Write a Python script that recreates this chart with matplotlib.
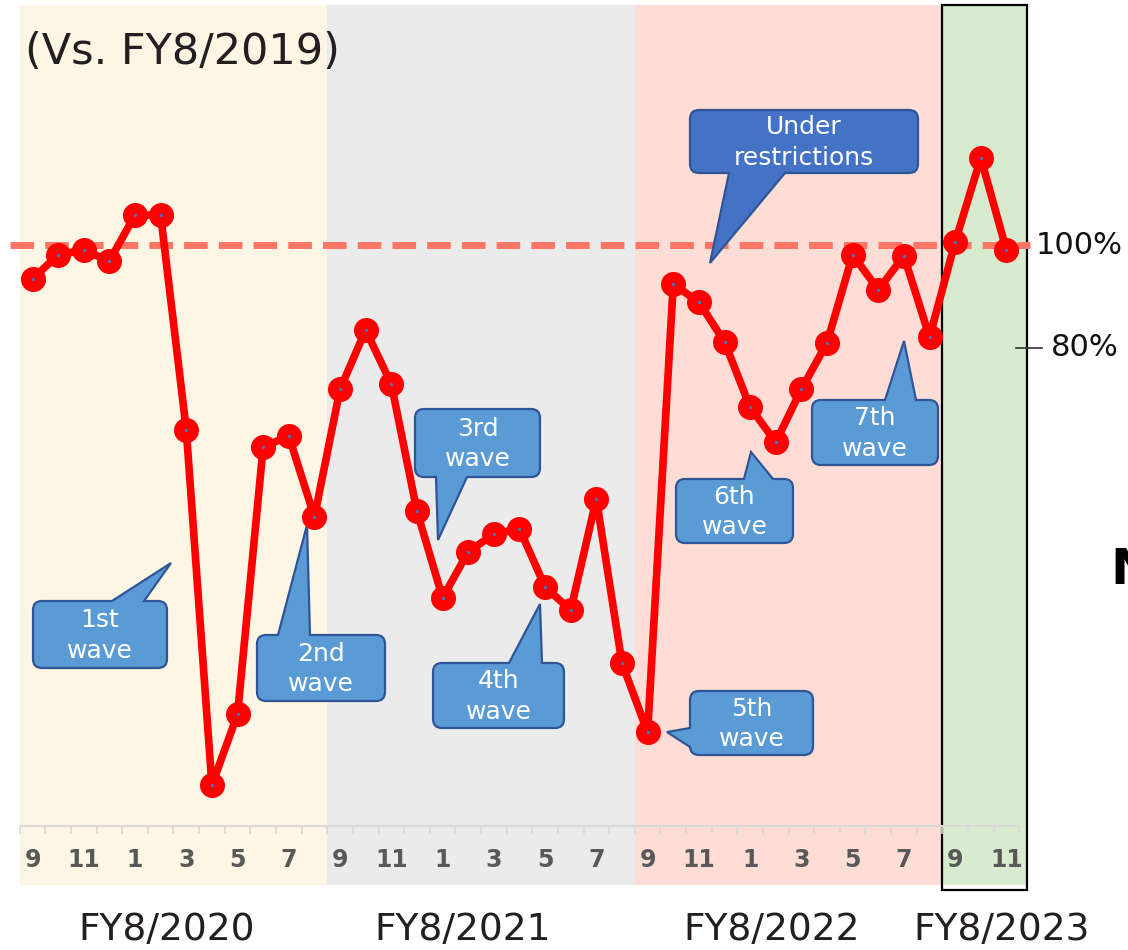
import numpy as np
import matplotlib
matplotlib.use("Agg")
import matplotlib.pyplot as plt
from matplotlib.path import Path
from matplotlib.patches import PathPatch
from matplotlib.transforms import Affine2D

# monthly index vs. FY8/2019 (%), Sep 2019 .. Nov 2022
months = [9, 10, 11, 12, 1, 2, 3, 4, 5, 6, 7, 8] * 3 + [9, 10, 11]
values = [93.4, 98.1, 99.0, 96.9, 105.8, 105.8, 64.1, -4.9, 8.9, 60.8, 62.9, 47.2,
          72.0, 83.5, 73.0, 48.3, 31.5, 40.4, 43.9, 44.9, 33.6, 29.1, 50.7, 18.8,
          5.4, 92.4, 88.9, 81.2, 68.5, 61.7, 72.0, 81.0, 98.1, 91.3, 97.9, 82.1,
          100.6, 116.9, 99.0]
fiscal_years = ["FY8/2020", "FY8/2021", "FY8/2022", "FY8/2023"]
band_edges = [-0.5, 11.5, 23.5, 35.5, 38.8]
band_colors = ["#FEF6E4", "#EBEBEB", "#FDDDD5", "#D9EBCF"]

W, H = 1128, 950
X0, DX = 32.5, 25.63      # pixel of first month, pixels per month
Y100, DY = 245, 5.15      # pixel of 100%, pixels per percent

fig = plt.figure(figsize=(W / 100, H / 100), dpi=100)
ax = fig.add_axes([0, 0, 1, 1])
ax.set_xlim(-X0 / DX, (W - X0) / DX)
ax.set_ylim(100 - (H - Y100) / DY, 100 + Y100 / DY)
ax.axis("off")

# pixel coordinates (y measured from the top) for labels and callouts
pix = Affine2D().scale(1 / W, -1 / H).translate(0, 1) + fig.transFigure

x = np.arange(len(values))

# fiscal year bands
for i in range(4):
    ax.axvspan(band_edges[i], band_edges[i + 1], ymin=65 / H, ymax=945 / H,
               color=band_colors[i], lw=0, zorder=0)
ax.axvspan(band_edges[3], band_edges[4], ymin=60 / H, ymax=945 / H,
           fc="none", ec="black", lw=1.6, zorder=1)

# baseline axis with monthly ticks
y_axis = 100 - (826 - Y100) / DY
y_tick = 100 - (834 - Y100) / DY
ax.hlines(y_axis, -0.5, len(values) - 0.5, color="#D9D9D9", lw=1.5, zorder=1)
ax.vlines(np.arange(len(values) + 1) - 0.5, y_tick, y_axis, color="#D9D9D9", lw=1.2, zorder=1)
y_lab = 100 - (860 - Y100) / DY
for k in range(0, len(values), 2):
    ax.text(k, y_lab, str(months[k]), ha="center", va="center", fontsize=17,
            fontweight="bold", color="#595959", zorder=3)

# 100% reference line
ax.plot([(10 - X0) / DX, (1030 - X0) / DX], [100, 100], color="#FF7566", lw=5,
        dashes=(3.4, 1.6), solid_capstyle="butt", zorder=2)

# main series
ax.plot(x, values, color="#FF0000", lw=5.5, marker="o", ms=17, zorder=5)
ax.plot(x, values, ls="none", marker="o", ms=1.3, color="#4472C4", zorder=6)

# right-hand labels
ax.text((1036 - X0) / DX, 100, "100%", ha="left", va="center", fontsize=22, color="#111111")
ax.text((1051 - X0) / DX, 80, "80%", ha="left", va="center", fontsize=22, color="#111111")
ax.plot([(1016 - X0) / DX, (1042 - X0) / DX], [80, 80], color="#333333", lw=1.2)

ax.text(25, 52, "(Vs. FY8/2019)", transform=pix, ha="left", va="center",
        fontsize=31, color="#231F20")
fy_x = [167, 463, 772, 1002]
for fx, label in zip(fy_x, fiscal_years):
    ax.text(fx, 930, label, transform=pix, ha="center", va="center", fontsize=27,
            color="#231F20")
ax.text(1110, 570, "N", transform=pix, ha="left", va="center", fontsize=36,
        fontweight="bold", color="black")


def callout(x0, y0, x1, y1, side, a, b, tip, text, fc="#5B9BD5"):
    r = 9
    M, L, C, Z = Path.MOVETO, Path.LINETO, Path.CURVE3, Path.CLOSEPOLY
    v = [(x0 + r, y0)]
    c = [M]
    if side == "top":
        v += [(a, y0), tip, (b, y0)]
        c += [L, L, L]
    v += [(x1 - r, y0), (x1, y0), (x1, y0 + r)]
    c += [L, C, C]
    v += [(x1, y1 - r), (x1, y1), (x1 - r, y1)]
    c += [L, C, C]
    if side == "bottom":
        v += [(b, y1), tip, (a, y1)]
        c += [L, L, L]
    v += [(x0 + r, y1), (x0, y1), (x0, y1 - r)]
    c += [L, C, C]
    if side == "left":
        v += [(x0, b), tip, (x0, a)]
        c += [L, L, L]
    v += [(x0, y0 + r), (x0, y0), (x0 + r, y0), (x0 + r, y0)]
    c += [L, C, C, Z]
    ax.add_patch(PathPatch(Path(v, c), fc=fc, ec="#2F5597", lw=1.6,
                           transform=pix, zorder=4))
    ax.text((x0 + x1) / 2, (y0 + y1) / 2 + 1, text, transform=pix, ha="center",
            va="center", fontsize=18, color="white", linespacing=1.35, zorder=4)


callout(33, 601, 167, 668, "top", 112, 144, (171, 563), "1st\nwave")
callout(257, 635, 385, 701, "top", 278, 310, (307, 525), "2nd\nwave")
callout(415, 409, 540, 477, "bottom", 436, 467, (438, 540), "3rd\nwave")
callout(433, 663, 564, 728, "top", 509, 542, (540, 604), "4th\nwave")
callout(690, 691, 813, 755, "left", 728, 747, (667, 732), "5th\nwave")
callout(676, 479, 793, 543, "top", 744, 773, (751, 452), "6th\nwave")
callout(812, 400, 938, 465, "top", 885, 916, (904, 341), "7th\nwave")
callout(690, 110, 918, 173, "bottom", 729, 785, (710, 263), "Under\nrestrictions",
        fc="#4472C4")

fig.savefig("out.png", dpi=100)
